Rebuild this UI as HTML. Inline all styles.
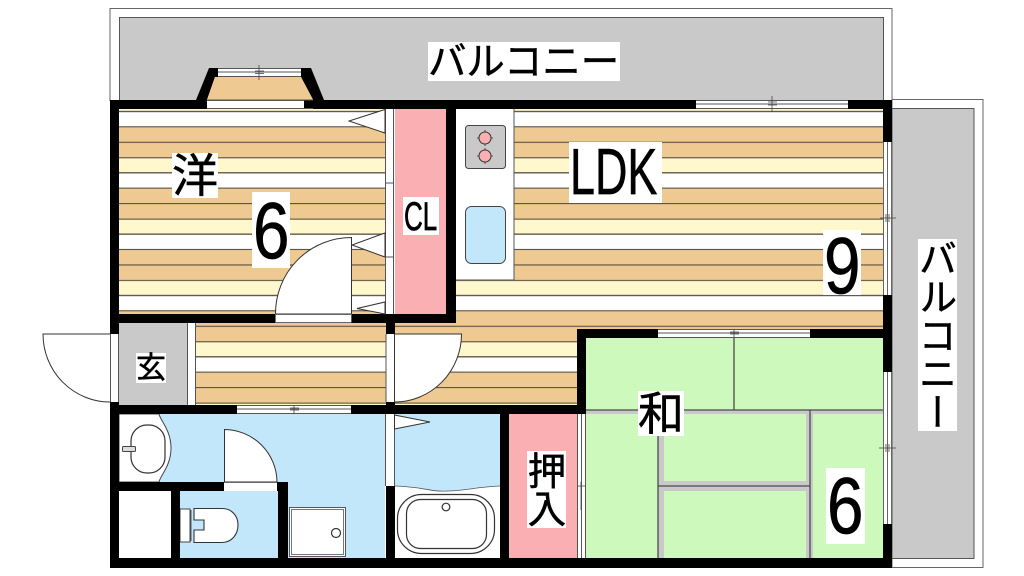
<!DOCTYPE html>
<html><head><meta charset="utf-8"><style>
html,body{margin:0;padding:0;background:#fff;width:1024px;height:576px;overflow:hidden}
svg{position:absolute;left:0;top:0}
.j{font-family:"Liberation Sans","Noto Sans CJK JP",sans-serif;fill:#000;stroke:#000;stroke-width:.5px}
.l{font-family:"Liberation Sans",sans-serif;fill:#000;stroke:#000;stroke-width:.7px}
.v{position:absolute;background:#fff;writing-mode:vertical-rl;font-family:"Liberation Sans","Noto Sans CJK JP",sans-serif;color:#000;text-align:center;line-height:1;white-space:nowrap;-webkit-text-stroke:.5px #000}
</style></head><body>
<svg width="1024" height="576" viewBox="0 0 1024 576" xmlns="http://www.w3.org/2000/svg">
<defs>
<pattern id="fl" patternUnits="userSpaceOnUse" x="0" y="111.3" width="20" height="61.33">
<rect width="20" height="15.4" fill="#fff"/>
<rect y="15.4" width="20" height="31" fill="#eeca92"/>
<rect y="46.4" width="20" height="15" fill="#fff8cc"/>
<rect y="15" width="20" height="1" fill="#4a4436"/>
<rect y="30.5" width="20" height="1" fill="#4a4436"/>
<rect y="46" width="20" height="1" fill="#4a4436"/>
<rect y="0" width="20" height=".8" fill="#4a4436"/>
<rect y="60.9" width="20" height=".5" fill="#4a4436"/>
</pattern>
</defs>
<!-- balconies -->
<rect x="110" y="8.500" width="782" height="92" fill="#fff" stroke="#666" stroke-width="1"/>
<rect x="119.500" y="17.500" width="764" height="83" fill="#c9c9c9" stroke="#555" stroke-width="1"/>
<rect x="892" y="99.500" width="91" height="468" fill="#fff" stroke="#666" stroke-width="1"/>
<rect x="892" y="108.500" width="82" height="450" fill="#c9c9c9" stroke="#555" stroke-width="1"/>
<!-- floors -->
<rect x="119" y="109" width="266" height="205" fill="url(#fl)"/>
<rect x="195" y="323" width="191" height="82" fill="url(#fl)"/>
<rect x="456" y="109" width="427" height="220" fill="url(#fl)"/>
<rect x="395" y="323" width="182" height="82" fill="url(#fl)"/>
<!-- closet -->
<rect x="385" y="109" width="10" height="205" fill="#fff"/>
<line x1="385.500" y1="109" x2="385.500" y2="314" stroke="#555"/>
<line x1="393.500" y1="109" x2="393.500" y2="314" stroke="#555"/>
<line x1="385" y1="183" x2="394" y2="183" stroke="#555"/>
<line x1="385" y1="257" x2="394" y2="257" stroke="#555"/>
<rect x="395" y="109" width="52" height="205" fill="#fab0b3"/>
<!-- genkan -->
<rect x="119" y="323" width="68" height="82" fill="#c9c9c9"/>
<rect x="187" y="323" width="8" height="82" fill="#fff"/>
<line x1="187.500" y1="323" x2="187.500" y2="405" stroke="#555"/>
<line x1="195.500" y1="323" x2="195.500" y2="405" stroke="#555"/>
<!-- kitchen -->
<rect x="456" y="109" width="58" height="171" fill="#fff"/>
<path d="M514 109V280H456" fill="none" stroke="#555"/>
<rect x="465.500" y="125.500" width="40" height="43" rx="3" fill="#c9c9c9" stroke="#444"/>
<circle cx="485" cy="138" r="6" fill="#fab0b3" stroke="#333"/>
<circle cx="485" cy="156" r="6" fill="#fab0b3" stroke="#333"/>
<path d="M485 130v2M485 144v2M477 138h2M491 138h2M485 148v2M485 162v2M477 156h2M491 156h2" stroke="#333" stroke-width=".8"/>
<rect x="465.500" y="206.500" width="40" height="57" rx="6" fill="#c2e7fb" stroke="#444"/>
<!-- wash & bath -->
<rect x="119" y="414" width="266" height="144" fill="#c2e7fb"/>
<rect x="395" y="414" width="105" height="72" fill="#c2e7fb"/>
<rect x="395" y="486" width="105" height="72" fill="#fff"/>
<path d="M395 486C425 487 430 492 447 491C465 491 475 487 500 486" fill="#c2e7fb"/>
<path d="M395 486C425 487 430 492 447 491C465 491 475 487 500 486" fill="none" stroke="#555" stroke-width=".8"/>
<rect x="397.500" y="494.500" width="97" height="59" rx="24" fill="#fff" stroke="#333" stroke-width="1.200"/>
<rect x="406.500" y="499.500" width="80" height="49" rx="14" fill="#fff" stroke="#333" stroke-width="1.200"/>
<circle cx="446" cy="507" r="3.800" fill="#fff" stroke="#333" stroke-width="1.200"/>
<rect x="385" y="414" width="10" height="72" fill="#fff"/>
<line x1="385.500" y1="414" x2="385.500" y2="486" stroke="#555"/>
<line x1="394.500" y1="414" x2="394.500" y2="486" stroke="#555"/>
<path d="M394.500 415L430 422L394.500 429Z" fill="#fff" stroke="#333"/>
<!-- vanity -->
<path d="M119 414H159C160 420 171 430 171 448C171 466 160 476 159 482H119Z" fill="#fff" stroke="#444"/>
<rect x="131" y="425" width="34" height="48" rx="16" fill="#fff" stroke="#333" stroke-width="1.200"/>
<rect x="122.500" y="446.500" width="13" height="5" rx="1" fill="#ddd" stroke="#444"/>
<!-- closet wash -->
<rect x="119" y="491" width="52" height="67" fill="#fff"/>
<!-- toilet -->
<rect x="180" y="509" width="10" height="33" fill="#fff" stroke="#444"/>
<path d="M194 508.500H222C232 508.500 238 516 238 525C238 534 232 542.500 222 542.500H194V530L204 530V520L194 520Z" fill="#fff" stroke="#333" stroke-width="1.100"/>
<line x1="191" y1="510" x2="191" y2="541" stroke="#555"/>
<!-- shower pan -->
<rect x="289.500" y="507.500" width="56" height="49" fill="#fff" stroke="#555" stroke-width="1"/>
<rect x="291.500" y="509.500" width="52" height="45" fill="#fff" stroke="#777" stroke-width="1"/>
<circle cx="336" cy="533" r="4.500" fill="#fff" stroke="#333" stroke-width="1.200"/>
<!-- oshiire -->
<rect x="509" y="414" width="68" height="144" fill="#fab0b3"/>
<rect x="577" y="414" width="9" height="144" fill="#fff"/>
<line x1="577.500" y1="414" x2="577.500" y2="558" stroke="#555"/>
<line x1="581.500" y1="414" x2="581.500" y2="558" stroke="#555"/>
<line x1="585.500" y1="414" x2="585.500" y2="558" stroke="#555"/>
<path d="M581 482V510M577 486H586" stroke="#444" stroke-width=".8"/>
<!-- washitsu -->
<rect x="586" y="338" width="297" height="220" fill="#cdf9bd"/>
<g fill="#c9c9c9">
<rect x="586" y="410" width="297" height="4"/>
<rect x="658" y="410" width="6" height="148"/>
<rect x="658" y="481" width="152" height="10"/>
<rect x="806" y="410" width="7" height="148"/>
</g>
<g stroke="#4a4a4a" stroke-width="1.300">
<line x1="586" y1="410" x2="883" y2="410"/>
<line x1="658" y1="410" x2="658" y2="558"/>
<line x1="810" y1="410" x2="810" y2="558"/>
<line x1="734" y1="338" x2="734" y2="410"/>
<line x1="658" y1="486" x2="810" y2="486"/>
</g>
<!-- walls -->
<g fill="#000">
<rect x="110" y="100" width="97" height="9"/>
<rect x="304" y="100" width="392" height="9"/>
<rect x="848" y="100" width="44" height="9"/>
<rect x="110" y="100" width="9" height="234"/>
<rect x="110" y="402" width="9" height="166"/>
<rect x="110" y="558" width="782" height="10"/>
<rect x="883" y="100" width="9" height="42"/>
<rect x="883" y="295" width="9" height="77"/>
<rect x="883" y="524" width="9" height="44"/>
<rect x="446" y="100" width="10" height="223"/>
<rect x="110" y="314" width="165" height="9"/>
<rect x="351" y="314" width="105" height="9"/>
<rect x="386" y="314" width="9" height="20"/>
<rect x="386" y="402" width="9" height="12"/>
<rect x="110" y="405" width="127" height="9"/>
<rect x="351" y="405" width="235" height="9"/>
<rect x="577" y="329" width="9" height="85"/>
<rect x="577" y="329" width="81" height="9"/>
<rect x="810" y="329" width="82" height="9"/>
<rect x="500" y="405" width="9" height="163"/>
<rect x="386" y="486" width="9" height="82"/>
<rect x="119" y="482" width="105" height="9"/>
<rect x="277" y="482" width="11" height="9"/>
<rect x="278" y="482" width="10" height="86"/>
<rect x="171" y="482" width="9" height="86"/>
<path d="M196 100L209 68H218V77H215L207 100Z"/>
<path d="M301 68H311L324 100H313L301 77Z"/>
</g>
<path d="M207 99.500L215 77H301L313 99.500Z" fill="#eeca92"/>
<line x1="207" y1="100" x2="313" y2="100" stroke="#555"/>
<!-- windows -->
<rect x="218" y="68" width="83" height="9" fill="#fff"/>
<path d="M218 68.500H301M218 72H301M218 76.500H301" stroke="#555" stroke-width=".9"/>
<path d="M259 65V80M255 71H264M255 73.500H264" stroke="#444" stroke-width=".8"/>
<rect x="207" y="100" width="97" height="9" fill="#fff"/>
<path d="M207 100.500H304M207 108.500H313" stroke="#555" stroke-width=".9"/>
<rect x="696" y="100" width="152" height="9" fill="#fff"/>
<path d="M696 100.500H848M696 104H848M696 108.500H848" stroke="#555" stroke-width=".9"/>
<path d="M772 96V112M768 102H777M768 105H777" stroke="#444" stroke-width=".8"/>
<rect x="883" y="142" width="9" height="153" fill="#fff"/>
<path d="M883.500 142V295M887.500 142V295M891.500 142V295" stroke="#555" stroke-width=".9"/>
<path d="M880 218H896M886 214V222M889 214V222" stroke="#444" stroke-width=".8"/>
<rect x="883" y="372" width="9" height="152" fill="#fff"/>
<path d="M883.500 372V524M887.500 372V524M891.500 372V524" stroke="#555" stroke-width=".9"/>
<path d="M879 448H896M886 444V452M889 444V452" stroke="#444" stroke-width=".8"/>
<rect x="658" y="329" width="152" height="9" fill="#fff"/>
<path d="M658 329.500H810M658 333H810M658 337.500H810" stroke="#555" stroke-width=".9"/>
<path d="M734 329V338M730 332H739M730 334H739" stroke="#444" stroke-width=".8"/>
<rect x="237" y="405" width="114" height="9" fill="#fff"/>
<path d="M237 405.500H351M237 409H351M237 413.500H351" stroke="#555" stroke-width=".9"/>
<path d="M294 405V414M290 408H299M290 410H299" stroke="#444" stroke-width=".8"/>
<!-- closet triangles -->
<path d="M385 109.500L349 121L385 133Z" fill="#fff" stroke="#333"/>
<path d="M385 233L352 245L385 257Z" fill="#fff" stroke="#333"/>
<path d="M385 302L357 308.500L385 314Z" fill="#fff" stroke="#333"/>
<!-- doors -->
<path d="M351.500 314V237.500A76 76 0 0 0 275.500 314Z" fill="#fff" stroke="#333"/>
<rect x="275" y="314" width="76" height="9" fill="#fff"/>
<path d="M275.500 314V322.500M351.500 314V322.500M275 314.500H351M275 322.500H351" stroke="#666" stroke-width=".9"/>
<rect x="110" y="334" width="9" height="68" fill="#fff"/>
<path d="M110.500 334V402M118.500 334V402" stroke="#555"/>
<path d="M110 334H43A67 68 0 0 0 110 402" fill="#fff" stroke="#333"/>
<rect x="386" y="334" width="9" height="68" fill="#fff"/>
<path d="M386 334V402M394.500 334V402" stroke="#555"/>
<path d="M394.500 334H461.500A67 68 0 0 1 394.500 402Z" fill="#fff" stroke="#333"/>
<path d="M224.500 482V429.500A53 53 0 0 1 277 482Z" fill="#fff" stroke="#333"/>
<rect x="224" y="482" width="53" height="9" fill="#fff"/>
<line x1="224" y1="482.500" x2="277" y2="482.500" stroke="#666"/>
<!-- label backgrounds -->
<g fill="#fff">
<rect x="428" y="42" width="192" height="39"/>
<rect x="172" y="153" width="46" height="45"/>
<rect x="252" y="192" width="38" height="76"/>
<rect x="569" y="142" width="93" height="61"/>
<rect x="823" y="230" width="38" height="65"/>
<rect x="403" y="197" width="36" height="38"/>
<rect x="136" y="353" width="30" height="30"/>
<rect x="638" y="391" width="46" height="45"/>
<rect x="826" y="468" width="39" height="76"/>
</g>
<!-- labels -->
<text class="j" x="428" y="75" font-size="38.4">バルコニー</text>
<text class="j" x="172" y="192" font-size="46">洋</text>
<text class="l" transform="translate(253 258) scale(.82 1)" font-size="80">6</text>
<text class="l" transform="translate(570 194) scale(.69 1)" font-size="65">LDK</text>
<text class="l" transform="translate(824 293) scale(.82 1)" font-size="80">9</text>
<text class="l" transform="translate(404 230) scale(.65 1)" font-size="40">CL</text>
<text class="j" x="136" y="378" font-size="30">玄</text>
<text class="j" x="638" y="430" font-size="46">和</text>
<text class="l" transform="translate(827 533) scale(.82 1)" font-size="80">6</text>
</svg>
<div class="v" style="left:918px;top:239px;width:35px;padding-right:4px;height:192px;font-size:38.4px">バルコニー</div>
<div class="v" style="left:527px;top:451px;width:35px;padding-right:4px;height:77px;font-size:38.4px">押入</div>
</body></html>
